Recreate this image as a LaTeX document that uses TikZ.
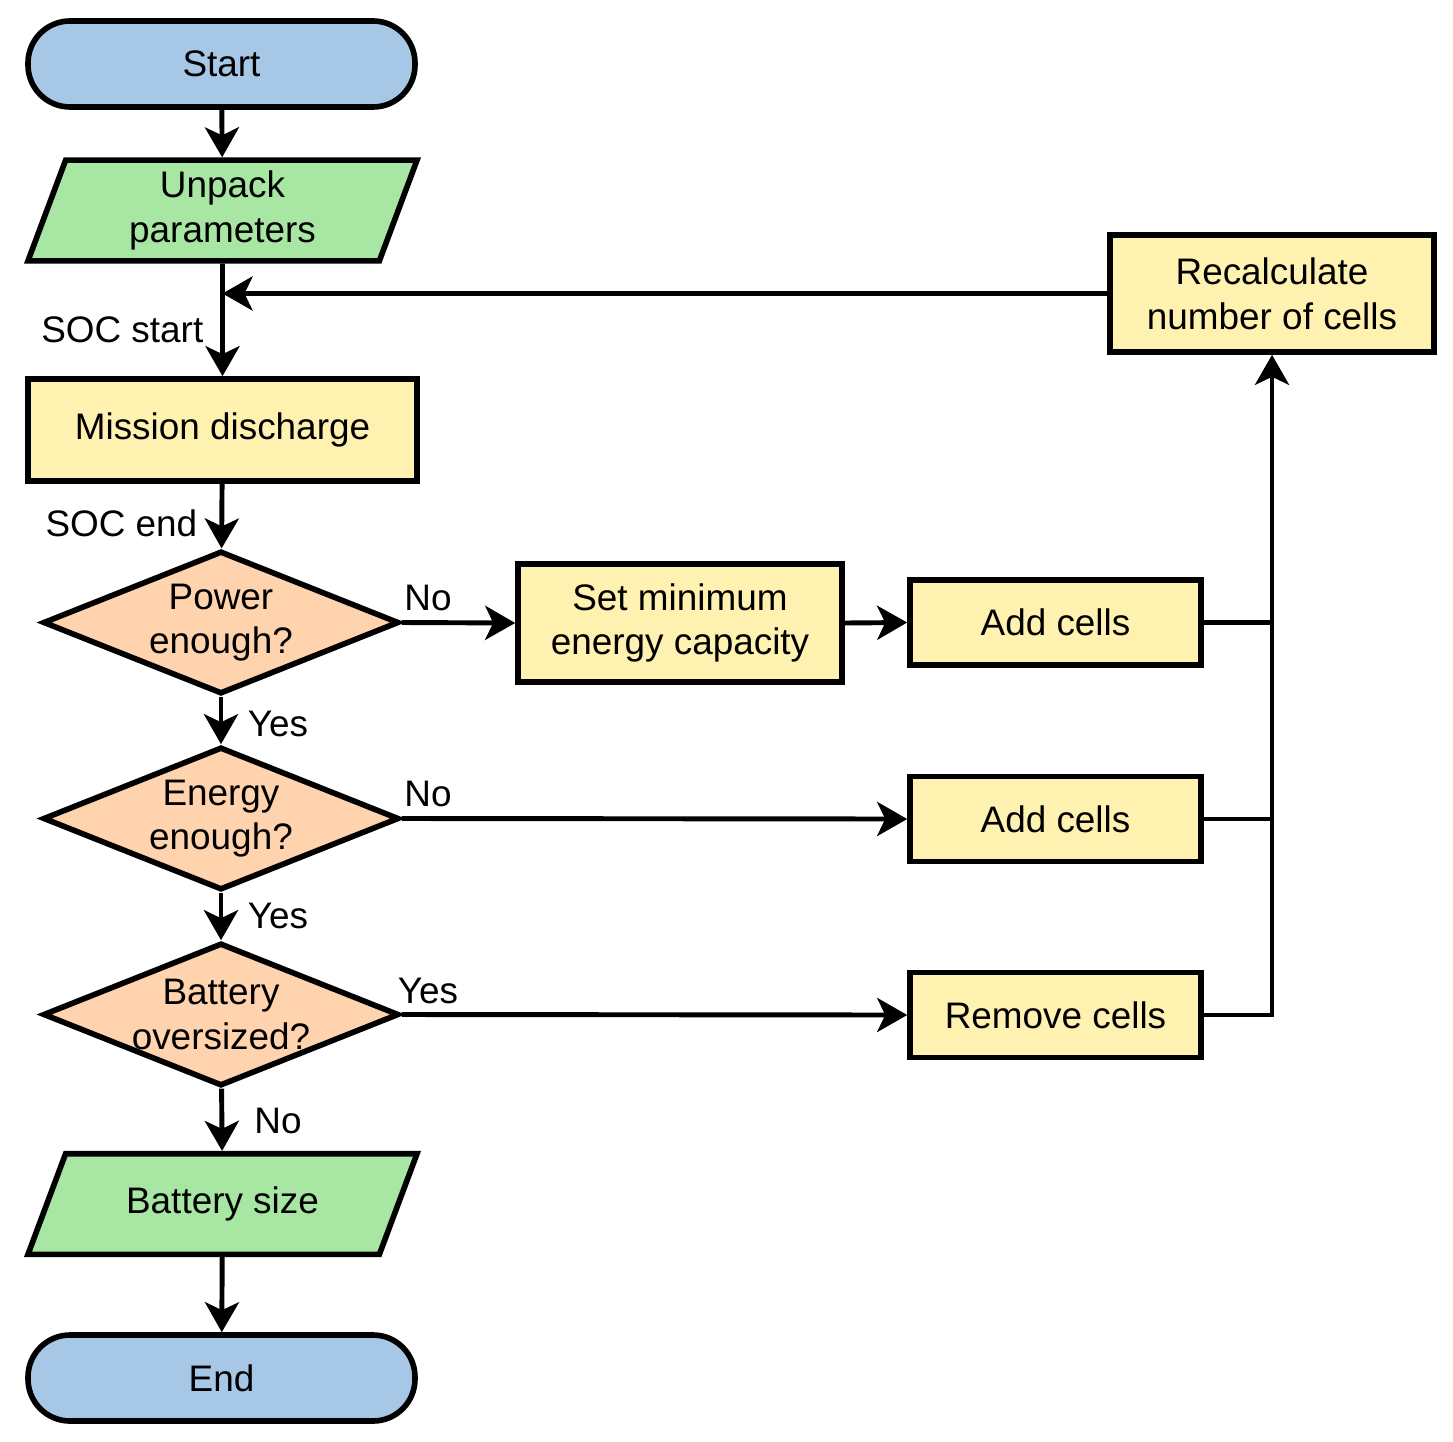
\documentclass[tikz,border=0pt]{standalone}
\usepackage{fontspec}
\setmainfont{Liberation Sans}
\usetikzlibrary{arrows.meta,positioning,shapes.geometric}
\definecolor{TermBlue}{RGB}{167,199,231}
\definecolor{IoGreen}{RGB}{168,230,163}
\definecolor{ProcYellow}{RGB}{255,242,176}
\definecolor{DecPeach}{RGB}{255,211,174}

\begin{document}
\begin{tikzpicture}[
    font=\fontsize{10.5}{12.7}\selectfont,
    term/.style={draw, line width=1.6pt, fill=TermBlue, rounded corners=0.42cm, minimum width=3.87cm, minimum height=0.86cm, inner sep=0pt},
    iobox/.style={draw, line width=1.6pt, fill=IoGreen, trapezium, trapezium left angle=69.5, trapezium right angle=110.5, trapezium stretches body, minimum width=3.89cm, inner xsep=0pt, align=center},
    proc/.style={draw, line width=1.6pt, fill=ProcYellow, minimum height=0.85cm, inner sep=0pt, align=center},
    decide/.style={draw, line width=1.6pt, fill=DecPeach, diamond, aspect=2.49, minimum width=3.56cm, minimum height=1.43cm, inner sep=-0.35mm, align=center},
    varrow/.style={-{Stealth[length=3mm, width=3.4mm, inset=0.8mm]}, line width=1.4pt},
    vline/.style={line width=1.4pt}
  ]
    \useasboundingbox (0,0) rectangle (14.53,-14.41);

    \node[term] (start) at (2.215,-0.64) {Start};
    \node[iobox, inner ysep=0.108cm] (unpack) at (2.225,-2.105) {Unpack\\parameters};
    \node[proc, minimum width=3.89cm, minimum height=1.02cm] (mission) at (2.225,-4.30) {Mission discharge};
    \node[decide] (power) at (2.21,-6.225) {Power\\enough?};
    \node[decide] (energy) at (2.21,-8.185) {Energy\\enough?};
    \node[decide] (over) at (2.21,-10.145) {Battery\\oversized?};
    \node[iobox, inner ysep=0.331cm] (size) at (2.225,-12.04) {Battery size};
    \node[term] (end) at (2.215,-13.78) {End};

    \node[proc, minimum width=3.24cm, minimum height=1.18cm] (setmin) at (6.80,-6.23) {Set minimum\\energy capacity};
    \node[proc, minimum width=2.91cm] (addone) at (10.555,-6.225) {Add cells};
    \node[proc, minimum width=2.91cm] (addtwo) at (10.555,-8.19) {Add cells};
    \node[proc, minimum width=2.91cm] (remove) at (10.555,-10.15) {Remove cells};
    \node[proc, minimum width=3.24cm, minimum height=1.17cm] (recalc) at (12.72,-2.935) {Recalculate\\number of cells};

    % labels on the connectors
    \node[anchor=east, inner sep=0pt] (socstart) at (2.04,-3.30) {SOC start};
    \node[anchor=east, inner sep=0pt] (socend) at (1.98,-5.23) {SOC end};
    \node (noone) at (4.28,-5.98) {No};
    \node (yesone) at (2.78,-7.24) {Yes};
    \node (notwo) at (4.28,-7.94) {No};
    \node (yestwo) at (2.78,-9.16) {Yes};
    \node (yesthree) at (4.28,-9.91) {Yes};
    \node (nothree) at (2.78,-11.21) {No};

    \draw[varrow] (start) -- (unpack);
    \draw[varrow] (unpack) -- (mission);
    \draw[varrow] (mission) -- (power);
    \draw[varrow] (power) -- (energy);
    \draw[varrow] (energy) -- (over);
    \draw[varrow] (over) -- (size);
    \draw[varrow] (size) -- (end);

    \draw[varrow] (power.east) -- (setmin.west);
    \draw[varrow] (setmin.east) -- (addone.west);
    \draw[varrow] (energy.east) -- (addtwo.west);
    \draw[varrow] (over.east) -- (remove.west);

    \draw[vline] (addone.east) -- (addone.east -| recalc.south);
    \draw[vline] (addtwo.east) -- (addtwo.east -| recalc.south);
    \draw[varrow] (remove.east) -| (recalc.south);
    \draw[varrow] (recalc.west) -- (recalc.west -| unpack.south);
  \end{tikzpicture}
\end{document}
